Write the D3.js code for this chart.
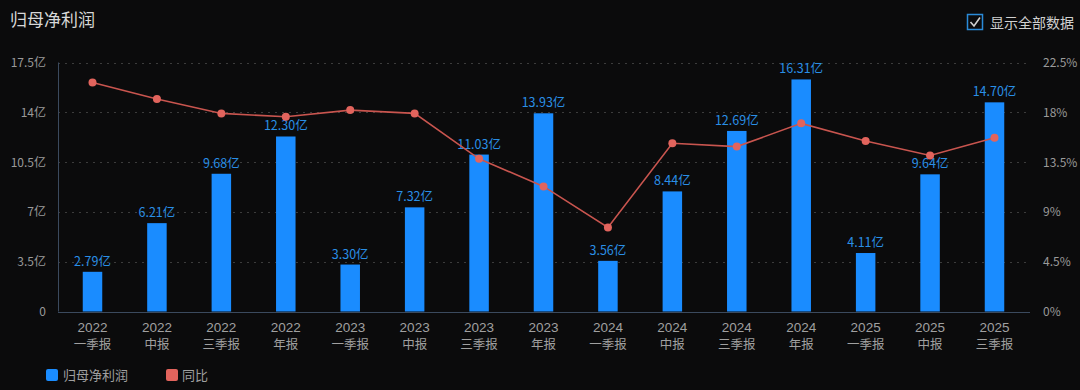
<!DOCTYPE html>
<html><head><meta charset="utf-8">
<script src="https://cdn.jsdelivr.net/npm/d3@7"></script>
<style>
html,body{margin:0;padding:0;background:#0b0b0c;}
svg{display:block;font-family:"Noto Sans CJK SC","Noto Sans",sans-serif;}
</style></head>
<body>
<svg id="c" width="1080" height="390"></svg>
<script>
const years = ["2022","2022","2022","2022","2023","2023","2023","2023","2024","2024","2024","2024","2025","2025","2025"];
const periods = ["一季报","中报","三季报","年报","一季报","中报","三季报","年报","一季报","中报","三季报","年报","一季报","中报","三季报"];
const profit = [2.79,6.21,9.68,12.30,3.30,7.32,11.03,13.93,3.56,8.44,12.69,16.31,4.11,9.64,14.70];
const yoy = [20.7,19.2,17.9,17.6,18.2,17.9,13.8,11.3,7.6,15.2,14.9,17.0,15.4,14.1,15.7];
const leftTicks = [0,3.5,7,10.5,14,17.5];
const leftTickLabels = ["0","3.5亿","7亿","10.5亿","14亿","17.5亿"];
const rightTicks = [0,4.5,9,13.5,18,22.5];
const rightTickLabels = ["0%","4.5%","9%","13.5%","18%","22.5%"];

const svg = d3.select("#c");
const L = 58, R = 1030, T = 62.5, B = 311.5;
const cats = d3.range(profit.length);
const xc = d3.scalePoint().domain(cats).range([92.5, 994.5]);
const y = d3.scaleLinear().domain([0,17.5]).range([B,T]);
const y2 = d3.scaleLinear().domain([0,22.5]).range([B,T]);
const bw = 19.5;

// title
svg.append("text").attr("x",10).attr("y",26).attr("fill","#d8d8d8").attr("font-size",17).text("归母净利润");
// checkbox
svg.append("rect").attr("x",967.5).attr("y",14.5).attr("width",15).attr("height",15).attr("fill","none").attr("stroke","#2a8ad8").attr("stroke-width",1.5);
svg.append("path").attr("d","M970.5 22 L974 26 L980 17.5").attr("fill","none").attr("stroke","#d0d0d0").attr("stroke-width",1.6);
svg.append("text").attr("x",990).attr("y",28).attr("fill","#d0d0d0").attr("font-size",14).text("显示全部数据");

// grid
svg.append("g").selectAll("line").data(leftTicks.filter(d=>d>0)).join("line")
  .attr("x1",L).attr("x2",R).attr("y1",d=>Math.round(y(d))+0.5).attr("y2",d=>Math.round(y(d))+0.5)
  .attr("stroke","#3c3c3c").attr("stroke-dasharray","2,5");
// axis lines
svg.append("line").attr("x1",L+0.5).attr("x2",L+0.5).attr("y1",T).attr("y2",B).attr("stroke","#3b4a5e");
svg.append("line").attr("x1",L).attr("x2",R).attr("y1",Math.round(B)+0.5).attr("y2",Math.round(B)+0.5).attr("stroke","#3b4a5e");

// left ticks
svg.append("g").selectAll("text").data(leftTicks).join("text")
  .attr("x",46).attr("y",d=>y(d)+4.5).attr("text-anchor","end")
  .attr("fill","#9a9a9a").attr("font-size",12).text((d,i)=>leftTickLabels[i]);
// right ticks
svg.append("g").selectAll("text").data(rightTicks).join("text")
  .attr("x",1043).attr("y",d=>y2(d)+4.5).attr("text-anchor","start")
  .attr("fill","#9a9a9a").attr("font-size",12).text((d,i)=>rightTickLabels[i]);

// x labels (two separate lines)
svg.append("g").selectAll("text").data(cats).join("text")
  .attr("x",d=>xc(d)).attr("y",331.5).attr("text-anchor","middle")
  .attr("font-family","'Liberation Sans',sans-serif")
  .attr("fill","#a0a0a0").attr("font-size",13.5).text(d=>years[d]);
svg.append("g").selectAll("text").data(cats).join("text")
  .attr("x",d=>xc(d)).attr("y",349).attr("text-anchor","middle")
  .attr("fill","#a0a0a0").attr("font-size",12.5).text(d=>periods[d]);

// bars
svg.append("g").selectAll("rect").data(cats).join("rect")
  .attr("x",d=>xc(d)-bw/2).attr("width",bw)
  .attr("y",d=>y(profit[d])).attr("height",d=>B-y(profit[d]))
  .attr("fill","#1a8cff");
// bar labels
svg.append("g").selectAll("text").data(cats).join("text")
  .attr("x",d=>xc(d)).attr("y",d=>y(profit[d])-6).attr("text-anchor","middle")
  .attr("fill","#2a8fe6").attr("font-size",12.5).text(d=>profit[d].toFixed(2)+"亿");

// line
const line = d3.line().x(d=>xc(d)).y(d=>y2(yoy[d]));
svg.append("path").datum(cats).attr("d",line).attr("fill","none").attr("stroke","#c9554f").attr("stroke-width",1.6);
svg.append("g").selectAll("circle").data(cats).join("circle")
  .attr("cx",d=>xc(d)).attr("cy",d=>y2(yoy[d])).attr("r",4).attr("fill","#e2645d");

// legend
svg.append("rect").attr("x",46).attr("y",369).attr("width",12).attr("height",12).attr("rx",2).attr("fill","#1a8cff");
svg.append("text").attr("x",63).attr("y",380).attr("fill","#a0a0a0").attr("font-size",13).text("归母净利润");
svg.append("rect").attr("x",166).attr("y",369).attr("width",12).attr("height",12).attr("rx",2).attr("fill","#e2645d");
svg.append("text").attr("x",182).attr("y",380).attr("fill","#a0a0a0").attr("font-size",13).text("同比");
</script>
</body></html>
